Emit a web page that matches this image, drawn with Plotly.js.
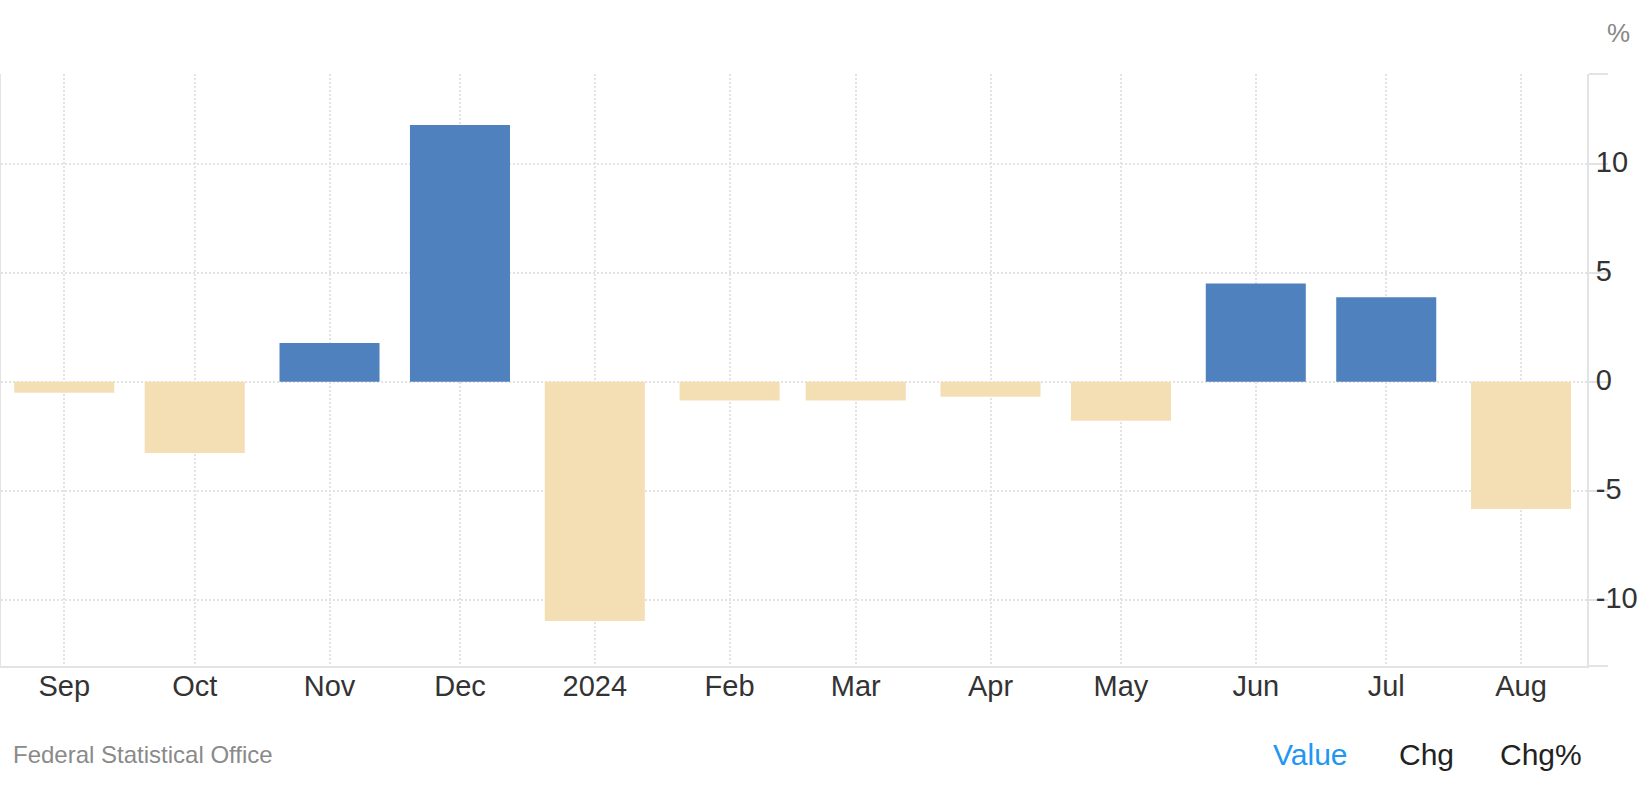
<!DOCTYPE html>
<html>
<head>
<meta charset="utf-8">
<script src="https://cdn.plot.ly/plotly-3.0.1.min.js"></script>
<style>
  html, body { margin: 0; padding: 0; background: #fff; }
  #chart { width: 1643px; height: 796px; }
</style>
</head>
<body>
<div id="chart"></div>
<script>
// ---- data ----
const months = ['2023-09-01','2023-10-01','2023-11-01','2023-12-01','2024-01-01','2024-02-01',
                '2024-03-01','2024-04-01','2024-05-01','2024-06-01','2024-07-01','2024-08-01'];
const tickLabels = ['Sep','Oct','Nov','Dec','2024','Feb','Mar','Apr','May','Jun','Jul','Aug'];
const values = [-0.51, -3.27, 1.77, 11.78, -10.98, -0.87, -0.87, -0.69, -1.79, 4.51, 3.87, -5.84];
const yTickVals = [-10, -5, 0, 5, 10];
const yTickText = ['-10', '-5', '0', '5', '10'];
const sourceText = 'Federal Statistical Office';
const unitText = '%';
const buttonLabels = ['Value', 'Chg', 'Chg%'];

// ---- style ----
const POS = '#4e81be', NEG = '#f4deb4';
const GRID = '#e3e3e3';
const FONT = 'Liberation Sans, Arial, Helvetica, sans-serif';
const yRange = [-13.05, 14.12];
const DAY = 86400000;

const trace = {
  type: 'bar',
  x: months,
  y: values,
  width: months.map(() => 23 * DAY),
  marker: { color: values.map(v => v >= 0 ? POS : NEG), line: { width: 0 } },
  hoverinfo: 'x+y'
};

const layout = {
  width: 1643, height: 796,
  margin: { l: 1, r: 56, t: 74, b: 130 },
  paper_bgcolor: '#fff', plot_bgcolor: '#fff',
  showlegend: false,
  font: { family: FONT, color: '#333', size: 29 },
  xaxis: {
    type: 'date',
    range: ['2023-08-17 11:00', '2024-08-16 04:00'],
    tickmode: 'array', tickvals: months, ticktext: tickLabels,
    showgrid: true, gridcolor: GRID, gridwidth: 1.5, griddash: '2px,2px',
    showline: true, linecolor: GRID, linewidth: 2,
    ticks: '', zeroline: false,
    ticklabelstandoff: -7,
    tickfont: { family: FONT, size: 29, color: '#333' },
    fixedrange: true
  },
  yaxis: {
    side: 'right',
    range: yRange,
    tickmode: 'array',
    tickvals: [yRange[0]].concat(yTickVals, [yRange[1]]),
    ticktext: [''].concat(yTickText, ['']),
    showgrid: true, gridcolor: GRID, gridwidth: 1.5, griddash: '2px,2px',
    showline: true, linecolor: GRID, linewidth: 2, mirror: true,
    ticks: 'outside', ticklen: 19, tickwidth: 2, tickcolor: GRID,
    ticklabelstandoff: -18, ticklabelshift: -2,
    zeroline: false,
    tickfont: { family: FONT, size: 29, color: '#333' },
    fixedrange: true
  },
  annotations: [
    { text: unitText, xref: 'paper', yref: 'paper', x: (1619 - 1) / 1586, y: (666 - 33) / 592,
      xanchor: 'center', yanchor: 'middle', showarrow: false,
      font: { family: FONT, size: 26, color: '#888' } },
    { text: sourceText, xref: 'paper', yref: 'paper', x: (11 - 1) / 1586, y: (666 - 754) / 592,
      xanchor: 'left', yanchor: 'middle', showarrow: false,
      font: { family: FONT, size: 24, color: '#8a8a8a' } },
    { text: buttonLabels[0], xref: 'paper', yref: 'paper', x: (1310 - 1) / 1586, y: (666 - 755) / 592,
      xanchor: 'center', yanchor: 'middle', showarrow: false,
      font: { family: FONT, size: 30, color: '#2196f3' } },
    { text: buttonLabels[1], xref: 'paper', yref: 'paper', x: (1426 - 1) / 1586, y: (666 - 755) / 592,
      xanchor: 'center', yanchor: 'middle', showarrow: false,
      font: { family: FONT, size: 30, color: '#222' } },
    { text: buttonLabels[2], xref: 'paper', yref: 'paper', x: (1541 - 1) / 1586, y: (666 - 755) / 592,
      xanchor: 'center', yanchor: 'middle', showarrow: false,
      font: { family: FONT, size: 30, color: '#222' } }
  ]
};

Plotly.newPlot('chart', [trace], layout, { displayModeBar: false, responsive: false });
</script>
</body>
</html>
